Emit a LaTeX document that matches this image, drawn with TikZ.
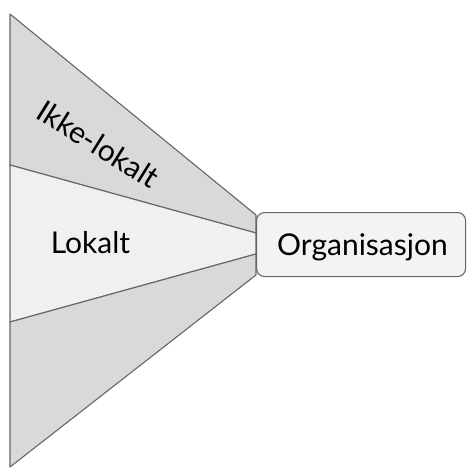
\documentclass[tikz,border=0pt]{standalone}
\usepackage{fontspec}
\setmainfont{Lato}
\definecolor{wedgedark}{HTML}{D9D9D9}
\definecolor{wedgelight}{HTML}{F0F0F0}
\definecolor{edgegray}{HTML}{666666}
\definecolor{boxfill}{HTML}{F3F3F3}
\tikzset{
  wedge/.style={draw=edgegray, line width=1.1pt, line join=round},
  label text/.style={font=\fontsize{30}{34}\selectfont, text=black, inner sep=0pt},
  orgbox/.style={draw=edgegray, fill=boxfill, line width=1.1pt, rounded corners=8pt,
    minimum width=209pt, minimum height=64pt, inner sep=0pt}
}
\begin{document}
\begin{tikzpicture}[x=1pt, y=-1pt]
  \useasboundingbox (0,0) rectangle (467,468);
  % left edge of the funnel
  \coordinate (t0) at (10,14);
  \coordinate (t1) at (10,165);
  \coordinate (t2) at (10,322);
  \coordinate (t3) at (10,467);
  % tips of the segments, under the box's left side
  \coordinate (e0) at (256,215);
  \coordinate (e1) at (256,233);
  \coordinate (e2) at (256,254);
  \coordinate (e3) at (256,275);
  % three funnel segments
  \draw[wedge, fill=wedgedark]  (t0) -- (e0) -- (e1) -- (t1) -- cycle;
  \draw[wedge, fill=wedgelight] (t1) -- (e1) -- (e2) -- (t2) -- cycle;
  \draw[wedge, fill=wedgedark]  (t2) -- (e2) -- (e3) -- (t3) -- cycle;
  % organisation box on top of the segment tips
  \node[orgbox, anchor=north west] (org) at (256,212) {};
  \node[label text, anchor=base] (orglabel) at (362.5,255) {Organisasjon};
  \node[label text, rotate=-32] (ikke) at (98,144) {Ikke-lokalt};
  \node[label text, anchor=base] (lokalt) at (90.5,253) {Lokalt};
\end{tikzpicture}
\end{document}
